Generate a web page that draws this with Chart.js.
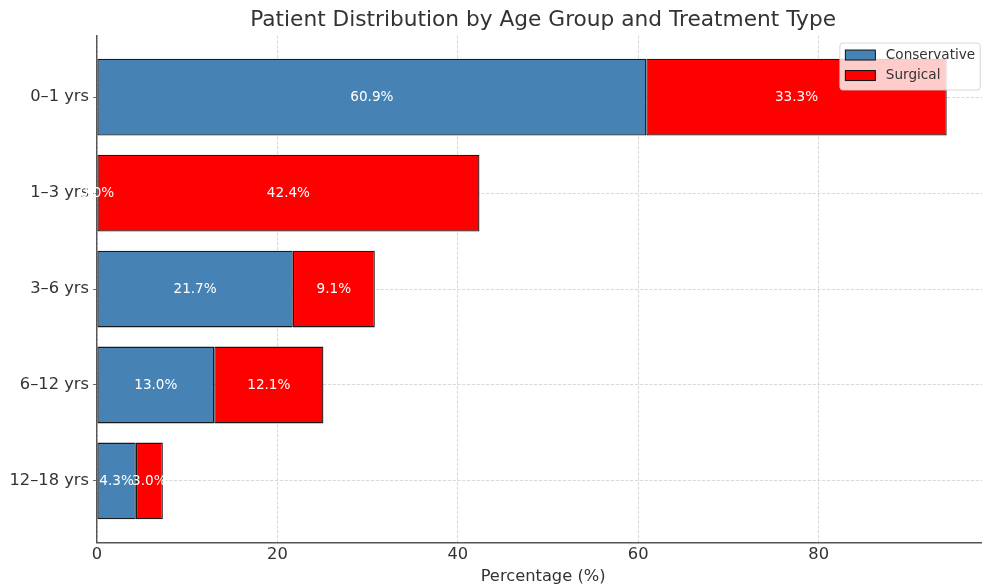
<!DOCTYPE html>
<html>
<head>
<meta charset="utf-8">
<title>Patient Distribution by Age Group and Treatment Type</title>
<script src="https://cdn.jsdelivr.net/npm/chart.js@4/dist/chart.umd.min.js"></script>
<style>
  html, body { margin: 0; padding: 0; background: #ffffff; overflow: hidden; }
  #wrap { width: 1000px; height: 588px; }
</style>
</head>
<body>
<div id="wrap"><canvas id="chart" width="1000" height="588"></canvas></div>
<script>
// Age groups, top to bottom
const categories = ['0–1 yrs', '1–3 yrs', '3–6 yrs', '6–12 yrs', '12–18 yrs'];
// Share of patients per group (%)
const conservative = [60.9, 0.0, 21.7, 13.0, 4.3];
const surgical = [33.3, 42.4, 9.1, 12.1, 3.0];
const xTicks = [0, 20, 40, 60, 80];

const FONT = "'DejaVu Sans', 'Liberation Sans', sans-serif";
const TEXT = '#333333';
const GRID = 'rgba(190,190,190,0.75)';

function toPoints(values) {
  return values.map((v, i) => ({ x: v, y: i }));
}

// White percentage labels centred in every segment
const segmentLabels = {
  id: 'segmentLabels',
  afterDraw(chart) {
    const ctx = chart.ctx;
    ctx.save();
    ctx.font = '13.6px ' + FONT;
    ctx.fillStyle = '#ffffff';
    ctx.textAlign = 'center';
    ctx.textBaseline = 'middle';
    chart.data.datasets.forEach((ds, di) => {
      const meta = chart.getDatasetMeta(di);
      meta.data.forEach((bar, i) => {
        const v = ds.data[i].x;
        const cx = (bar.x + bar.base) / 2;
        ctx.fillText(v.toFixed(1) + '%', cx, bar.y + 0.5);
      });
    });
    ctx.restore();
  }
};

// Legend box in the upper right corner of the plot
const cornerLegend = {
  id: 'cornerLegend',
  afterDraw(chart) {
    const ctx = chart.ctx;
    const area = chart.chartArea;
    const items = chart.data.datasets.map(ds => ({ label: ds.label, color: ds.backgroundColor }));
    ctx.save();
    ctx.font = '13.6px ' + FONT;
    const textW = Math.max(...items.map(it => ctx.measureText(it.label).width));
    const w = 5 + 30 + 11 + textW + 5;
    const h = 47;
    const right = area.right - 9;
    const top = area.top + 7.4;
    const left = right - w;
    // frame
    ctx.beginPath();
    ctx.roundRect(left, top, w, h, 3);
    ctx.fillStyle = 'rgba(255,255,255,0.8)';
    ctx.fill();
    ctx.lineWidth = 1;
    ctx.strokeStyle = 'rgba(204,204,204,0.8)';
    ctx.stroke();
    items.forEach((it, k) => {
      const rowY = top + 12 + k * 20.5;
      ctx.fillStyle = it.color;
      ctx.fillRect(left + 5.5, rowY - 5, 30, 10);
      ctx.lineWidth = 1;
      ctx.strokeStyle = '#111111';
      ctx.strokeRect(left + 5.5, rowY - 5, 30, 10);
      ctx.fillStyle = TEXT;
      ctx.textAlign = 'left';
      ctx.textBaseline = 'middle';
      ctx.fillText(it.label, left + 46, rowY);
    });
    ctx.restore();
  }
};

new Chart(document.getElementById('chart'), {
  type: 'bar',
  data: {
    datasets: [
      {
        label: 'Conservative',
        data: toPoints(conservative),
        backgroundColor: '#4682B4',
        borderColor: '#1a1a1a',
        borderWidth: 1.3,
        borderSkipped: false,
        barPercentage: 0.8,
        categoryPercentage: 1.0
      },
      {
        label: 'Surgical',
        data: toPoints(surgical),
        backgroundColor: '#FF0000',
        borderColor: '#1a1a1a',
        borderWidth: 1.3,
        borderSkipped: false,
        barPercentage: 0.8,
        categoryPercentage: 1.0
      }
    ]
  },
  options: {
    indexAxis: 'y',
    responsive: false,
    animation: false,
    devicePixelRatio: 1,
    layout: { padding: { left: 0, right: 10.8, top: 0, bottom: 0 } },
    plugins: {
      legend: { display: false },
      tooltip: { enabled: false },
      title: {
        display: true,
        fullSize: false,
        text: 'Patient Distribution by Age Group and Treatment Type',
        color: TEXT,
        font: { family: FONT, size: 21.7, weight: 'normal', lineHeight: 1.2 },
        padding: { top: 7, bottom: 2.6 }
      }
    },
    scales: {
      x: {
        type: 'linear',
        stacked: true,
        min: 0,
        max: 98.91,
        z: 1,
        afterFit(scale) { scale.height = 45.6; },
        afterBuildTicks(scale) { scale.ticks = xTicks.map(v => ({ value: v })); },
        ticks: {
          color: TEXT,
          padding: 3,
          font: { family: FONT, size: 16.3 }
        },
        grid: {
          color: GRID,
          lineWidth: 0.8,
          drawTicks: false
        },
        border: { display: true, color: '#555555', width: 1.4, dash: [3.2, 1.6] },
        title: {
          display: true,
          text: 'Percentage (%)',
          color: TEXT,
          font: { family: FONT, size: 16.3, lineHeight: 1.2 },
          padding: { top: 0, bottom: 1.2 }
        }
      },
      y: {
        type: 'linear',
        stacked: true,
        reverse: true,
        offset: false,
        min: -0.64,
        max: 4.64,
        z: 1,
        afterFit(scale) { scale.width = 97; },
        afterBuildTicks(scale) { scale.ticks = categories.map((c, i) => ({ value: i })); },
        ticks: {
          color: TEXT,
          padding: 4,
          font: { family: FONT, size: 16.3 },
          callback: (v) => categories[v] ?? ''
        },
        grid: {
          offset: false,
          color: GRID,
          lineWidth: 0.8,
          drawTicks: true,
          tickLength: 4,
          tickColor: '#444444',
          tickBorderDash: []
        },
        border: { display: true, color: '#555555', width: 1.4, dash: [3.2, 1.6] }
      }
    }
  },
  plugins: [segmentLabels, cornerLegend]
});
</script>
</body>
</html>
